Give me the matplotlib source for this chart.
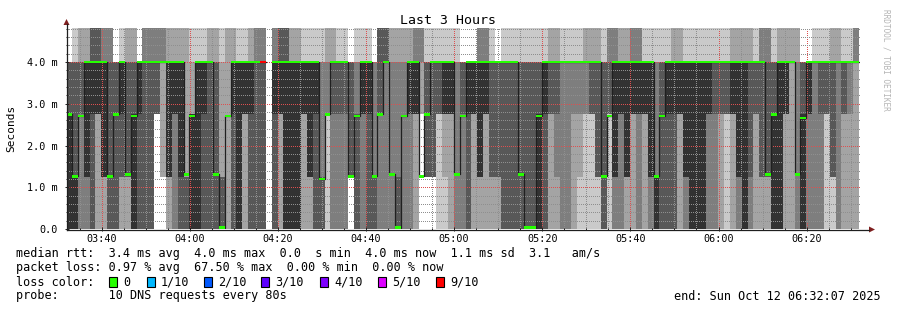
import matplotlib
matplotlib.use("Agg")
import matplotlib.pyplot as plt
import numpy as np
from matplotlib.patches import Rectangle, Polygon
from matplotlib.lines import Line2D

# --- data -------------------------------------------------------------------
# smoke: the 10 sorted ping times of each 80 s step, coded by level
level_ms = {"0": 0.0, "1": 1.25, "2": 2.75, "4": 4.0, "8": 8.0}

smoke = [
    "0000024444", "0000014448", "0002224488", "0001144488", "0000248888",
    "0022248888", "0011144888", "0000114888", "0000224444", "0011244448",
    "0011114488", "0000024488", "0000244444", "0000444888", "0000444888",
    "2222444888", "1144444888", "0011144488", "0002244488", "0000144488",
    "0000111188", "0000022248", "0000044448", "0000244448", "0000444488",
    "0000114488", "0000001148", "0022222288", "0000244488", "0000044448",
    "0022244448", "0000244488", "0000444888", "0000444888", None,
    "0000244888", "0022248888", "0000048888", "0000044488", "0000044488",
    "0022244448", "0011144448", "0000244448", "0000111448", "0222222488",
    "0002224488", "0002224448", "0002224448", "1111114444", "0000222448",
    "0002244448", "0000244448", "0000111444", "0002228888", "0004448888",
    "0001111488", "0000001488", "0002222488", "0002244488", "0022244888",
    "2244444888", "1111224448", "1111444448", "0222444448", "0122244448",
    "0022244448", "0001111448", "0002224444", "0000244444", "0022244444",
    "0011144888", "0022244888", "0011444448", "0011444444", "0000444448",
    "0000444448", "0000444448", "0000114448", "0000004448", "0000004448",
    "0000024448", "0000244448", "0022444488", "0012444488", "0004444448",
    "0004444448", "0024444448", "0124444448", "0224444488", "0222444488",
    "0111444488", "0000114448", "0222224888", "0001144888", "0002244488",
    "0011144488", "0022244888", "0002244888", "0022244448", "0001144448",
    "0000011448", "0000224448", "0000244448", "0000244488", "0022244488",
    "0001144448", "0000044448", "0000044448", "0000044448", "0002244448",
    "0002224448", "0022444448", "0222444448", "0022244488", "0001144488",
    "0000044488", "0001444488", "0022444448", "0011444888", "0011114888",
    "0000024448", "0000044488", "0022244488", "0044444488", "0001111488",
    "0000024444", "0002244444", "0004444448", "0002224448", "0222444448",
    "0111444488", "0004444488", "0022444448", "0024444448", "0044444888",
]

median_ms = [
    2.75, 1.26, 2.71, 4.0, 4.0, 4.0, 4.0, 1.26, 2.75, 4.0,
    1.31, 2.71, 4.0, 4.0, 4.0, 4.0, 4.0, 4.0, 4.0, 4.0,
    1.31, 2.71, 4.0, 4.0, 4.0, 1.31, 0.03, 2.71, 4.0, 4.0,
    4.0, 4.0, 4.0, 4.0, np.nan, 4.0, 4.0, 4.0, 4.0, 4.0,
    4.0, 4.0, 4.0, 1.2, 2.75, 4.0, 4.0, 4.0, 1.26, 2.71,
    4.0, 4.0, 1.26, 2.75, 4.0, 1.31, 0.03, 2.71, 4.0, 4.0,
    1.26, 2.75, 4.0, 4.0, 4.0, 4.0, 1.31, 2.71, 4.0, 4.0,
    4.0, 4.0, 4.0, 4.0, 4.0, 4.0, 4.0, 1.31, 0.03, 0.03,
    2.71, 4.0, 4.0, 4.0, 4.0, 4.0, 4.0, 4.0, 4.0, 4.0,
    4.0, 1.26, 2.71, 4.0, 4.0, 4.0, 4.0, 4.0, 4.0, 4.0,
    1.26, 2.71, 4.0, 4.0, 4.0, 4.0, 4.0, 4.0, 4.0, 4.0,
    4.0, 4.0, 4.0, 4.0, 4.0, 4.0, 4.0, 4.0, 4.0, 1.31,
    2.75, 4.0, 4.0, 4.0, 1.31, 2.66, 4.0, 4.0, 4.0, 4.0,
    4.0, 4.0, 4.0, 4.0, 4.0,
]

loss_tenths = [
    0, 0, 0, 0, 0, 0, 0, 0, 0, 0, 0, 0, 0, 0, 0, 0, 0, 0, 0, 0,
    0, 0, 0, 0, 0, 0, 0, 0, 0, 0, 0, 0, 0, 9, None, 0, 0, 0, 0, 0,
    0, 0, 0, 0, 0, 0, 0, 0, 0, 0, 0, 0, 0, 0, 0, 0, 0, 0, 0, 0,
    0, 0, 0, 0, 0, 0, 0, 0, 0, 0, 0, 0, 0, 0, 0, 0, 0, 0, 0, 0,
    0, 0, 0, 0, 0, 0, 0, 0, 0, 0, 0, 0, 0, 0, 0, 0, 0, 0, 0, 0,
    0, 0, 0, 0, 0, 0, 0, 0, 0, 0, 0, 0, 0, 0, 0, 0, 0, 0, 0, 0,
    0, 0, 0, 0, 0, 0, 0, 0, 0, 0, 0, 0, 0, 0, 0,
]

step_s = 80
first_step_end_s = 68          # first full step ends 68 s after 03:32:07
span_s = 3 * 3600
start_clock = (3, 32, 7)
tick_labels = ["03:40", "04:00", "04:20", "04:40", "05:00",
               "05:20", "05:40", "06:00", "06:20"]

loss_legend = ["0", "1/10", "2/10", "3/10", "4/10", "5/10", "9/10"]
loss_colors = ["#26ff00", "#00b8ff", "#0059ff", "#5e00ff", "#7e00ff", "#dd00ff", "#ff0000"]
loss_key = {0: "#26ff00", 1: "#00b8ff", 2: "#0059ff", 3: "#5e00ff",
            4: "#7e00ff", 5: "#dd00ff", 9: "#ff0000"}

# --- figure -----------------------------------------------------------------
W, H = 897, 310
MONO = "DejaVu Sans Mono"
plt.rcParams["lines.scale_dashes"] = False

fig = plt.figure(figsize=(W / 100, H / 100), dpi=100)
fig.patch.set_facecolor("white")
ax = fig.add_axes([67 / W, 1 - 229 / H, 793 / W, 201 / H])
ax.set_facecolor("white")


def px(x, y):
    return x / W, 1 - y / H


n = len(smoke)
edges_s = np.concatenate([[0], first_step_end_s + step_s * np.arange(n)])
edges_s = np.minimum(edges_s, span_s)
edges = edges_s / 60.0
lefts = edges[:-1]
widths = np.diff(edges)

grays = ["#cacaca", "#a4a4a4", "#7e7e7e", "#585858", "#323232"]
for ring in range(5):
    xs, ws, bots, hts = [], [], [], []
    for i, s in enumerate(smoke):
        if s is None:
            continue
        p = sorted(level_ms[c] for c in s)
        lo, hi = p[ring], p[9 - ring]
        if hi > lo:
            xs.append(lefts[i])
            ws.append(widths[i])
            bots.append(lo)
            hts.append(hi - lo)
    ax.bar(xs, hts, width=ws, bottom=bots, align="edge", color=grays[ring],
           linewidth=0, antialiased=False, zorder=1)

# median line (black steps) and loss coloured marks
med = np.array(median_ms, dtype=float)
ax.plot(edges, np.append(med, med[-1]), drawstyle="steps-post",
        color="#202020", lw=0.9, zorder=3)
mark_h = 0.065
for i, m in enumerate(med):
    if np.isnan(m) or loss_tenths[i] is None:
        continue
    ax.bar(lefts[i], mark_h, width=widths[i], bottom=max(m - mark_h / 2, 0),
           align="edge", color=loss_key[loss_tenths[i]], linewidth=0,
           antialiased=False, zorder=4)

# axes, grid, ticks
t0 = start_clock[0] * 60 + start_clock[1] + start_clock[2] / 60
major_x = [int(l[:2]) * 60 + int(l[3:]) - t0 for l in tick_labels]
minor_x = np.arange(major_x[0] - 5, span_s / 60, 5)
ax.set_xlim(0, span_s / 60)
ax.set_ylim(0, 201 / 41.75)
ax.set_xticks(major_x)
ax.set_xticklabels(tick_labels)
ax.set_xticks(minor_x, minor=True)
ax.set_yticks([0, 1, 2, 3, 4])
ax.set_yticklabels(["0.0", "1.0 m", "2.0 m", "3.0 m", "4.0 m"])
ax.set_yticks(np.arange(0, 4.81, 0.2), minor=True)

ax.set_axisbelow(False)
ax.grid(which="minor", color=(0.56, 0.56, 0.56, 0.6), lw=0.72,
        linestyle=(0, (0.72, 1.44)), antialiased=False)
ax.grid(which="major", color=(0.87, 0.31, 0.31, 0.55), lw=0.72,
        linestyle=(0, (0.72, 1.44)), antialiased=False)

for lab in ax.get_xticklabels() + ax.get_yticklabels():
    lab.set_family(MONO)
    lab.set_fontsize(7.3)
ax.tick_params(axis="x", which="major", length=3, width=0.7, pad=2,
               direction="inout", color="#1f1f1f")
ax.tick_params(axis="y", which="major", length=3, width=0.7, pad=5,
               direction="inout", color="#1f1f1f")
ax.tick_params(which="minor", length=2, width=0.7, direction="inout",
               color="#1f1f1f")

for side in ["top", "right", "left", "bottom"]:
    ax.spines[side].set_visible(False)

axis_c = "#1f1f1f"
arrow_c = "#7f1f1f"
fig.add_artist(Line2D(*zip(px(67, 229.5), px(869, 229.5)), color=axis_c, lw=0.9))
fig.add_artist(Line2D(*zip(px(66.5, 229.5), px(66.5, 24)), color=axis_c, lw=0.9))
fig.add_artist(Polygon([px(875, 229.5), px(869, 226.5), px(869, 232.5)],
                       closed=True, color=arrow_c, lw=0))
fig.add_artist(Polygon([px(66.5, 19), px(63.5, 25), px(69.5, 25)],
                       closed=True, color=arrow_c, lw=0))

# titles
fig.text(*px(448, 20), "Last 3 Hours", family=MONO, fontsize=9.5,
         ha="center", va="center")
fig.text(*px(11, 128), "Seconds", family=MONO, fontsize=8, rotation=90,
         ha="center", va="center")
fig.text(*px(886, 60), "RRDTOOL / TOBI OETIKER", family=MONO, fontsize=5.6,
         rotation=-90, ha="center", va="center", color="#b4b4b4")

# legend block
fs = 8.5
fig.text(*px(16, 254), "median rtt:  3.4 ms avg  4.0 ms max  0.0  s min  "
         "4.0 ms now  1.1 ms sd  3.1   am/s", family=MONO, fontsize=fs,
         ha="left", va="center")
fig.text(*px(16, 268), "packet loss: 0.97 % avg  67.50 % max  0.00 % min  "
         "0.00 % now", family=MONO, fontsize=fs, ha="left", va="center")
fig.text(*px(16, 282), "loss color:", family=MONO, fontsize=fs,
         ha="left", va="center")
fig.text(*px(16, 296), "probe:       10 DNS requests every 80s", family=MONO,
         fontsize=fs, ha="left", va="center")
fig.text(*px(881, 296), "end: Sun Oct 12 06:32:07 2025", family=MONO,
         fontsize=fs, ha="right", va="center")

box_x = [109, 147, 204, 261, 320, 378, 436]
for bx, lab, col in zip(box_x, loss_legend, loss_colors):
    x0, y0 = px(bx, 287)
    fig.add_artist(Rectangle((x0, y0), 8 / W, 10 / H, facecolor=col,
                             edgecolor="black", lw=0.8))
    fig.text(*px(bx + 14, 282), lab, family=MONO, fontsize=fs,
             ha="left", va="center")

fig.savefig("out.png", dpi=100, facecolor="white")
